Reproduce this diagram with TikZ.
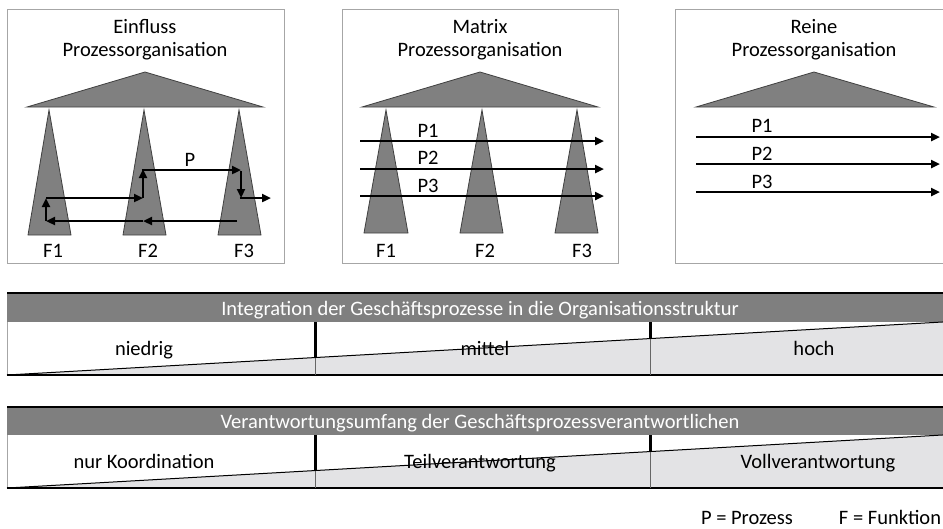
\documentclass[tikz,border=0pt]{standalone}
\usepackage{fontspec}
\setmainfont{Carlito}
\usetikzlibrary{arrows.meta}
\definecolor{tri}{HTML}{808080}
\definecolor{head}{HTML}{7F7F7F}
\definecolor{wedge}{HTML}{E3E3E5}
\definecolor{frame}{HTML}{A6A6A6}
\tikzset{
  lbl/.style={font=\fontsize{20.5}{24}\selectfont, inner sep=0pt, anchor=base},
  hdr/.style={lbl, text=white},
  panel/.style={draw=frame, line width=1pt},
  func/.style={fill=tri, draw=black!75, line width=0.8pt, line join=miter},
  flow/.style={line width=2.4pt, -{Triangle[length=9pt,width=8pt]}},
  divider/.style={line width=3pt},
}
\begin{document}
\begin{tikzpicture}[x=1pt, y=-1pt]
\useasboundingbox (0,0) rectangle (943,528);

% ---------- panel 1: Einfluss-Prozessorganisation ----------
\draw[panel] (7,9) rectangle (284,263);
\node[lbl] (t1a) at (145,33) {Einfluss};
\node[lbl] (t1b) at (145,56) {Prozessorganisation};
\filldraw[func] (145,72) -- (263,107) -- (27,107) -- cycle;
\filldraw[func] (49,110) -- (71,235) -- (28,235) -- cycle;
\filldraw[func] (144,110) -- (166,235) -- (123,235) -- cycle;
\filldraw[func] (239,110) -- (261,235) -- (218,235) -- cycle;
\node[lbl] (f11) at (53,257) {F1};
\node[lbl] (f12) at (148,257) {F2};
\node[lbl] (f13) at (244,257) {F3};
% process path through the functions
\coordinate (pS) at (237,221);
\coordinate (pA) at (143,221);
\coordinate (pB) at (46,221);
\coordinate (pC) at (46,198);
\coordinate (pD) at (143,198);
\coordinate (pE) at (143,170);
\coordinate (pF) at (241,170);
\coordinate (pG) at (241,198);
\coordinate (pH) at (271,198);
\draw[flow] (pS) -- (pA);
\draw[flow] (pA) -- (pB);
\draw[flow] (pB) -- (pC);
\draw[flow] (pC) -- (pD);
\draw[flow] (pD) -- ([yshift=1pt]pE);
\draw[flow] ([xshift=-1.2pt]pE) -- (pF);
\draw[flow] ([yshift=-1.2pt]pF) -- (pG);
\draw[flow] ([xshift=-1.2pt]pG) -- (pH);
\node[lbl] (p1) at (190,166) {P};

% ---------- panel 2: Matrix-Prozessorganisation ----------
\draw[panel] (342,9) rectangle (618,263);
\node[lbl] (t2a) at (480,33) {Matrix};
\node[lbl] (t2b) at (480,56) {Prozessorganisation};
\filldraw[func] (480,72) -- (598,107) -- (362,107) -- cycle;
\filldraw[func] (386,110) -- (408,233) -- (364,233) -- cycle;
\filldraw[func] (482,110) -- (503,233) -- (460,233) -- cycle;
\filldraw[func] (577,110) -- (598,233) -- (555,233) -- cycle;
\node[lbl] (f21) at (386,257) {F1};
\node[lbl] (f22) at (485,257) {F2};
\node[lbl] (f23) at (582,257) {F3};
\coordinate (m1s) at (360,141); \coordinate (m1e) at (604,141);
\coordinate (m2s) at (360,169); \coordinate (m2e) at (604,169);
\coordinate (m3s) at (360,196); \coordinate (m3e) at (604,196);
\draw[flow] (m1s) -- (m1e);
\draw[flow] (m2s) -- (m2e);
\draw[flow] (m3s) -- (m3e);
\node[lbl] (mp1) at (428,137) {P1};
\node[lbl] (mp2) at (428,164) {P2};
\node[lbl] (mp3) at (428,192) {P3};

% ---------- panel 3: Reine Prozessorganisation ----------
\draw[panel] (675,9) rectangle (946,263);
\node[lbl] (t3a) at (814,33) {Reine};
\node[lbl] (t3b) at (814,56) {Prozessorganisation};
\filldraw[func] (814,72) -- (934,107) -- (696,107) -- cycle;
\coordinate (r1s) at (696,137); \coordinate (r1e) at (940,137);
\coordinate (r2s) at (696,164); \coordinate (r2e) at (940,164);
\coordinate (r3s) at (696,192); \coordinate (r3e) at (940,192);
\draw[flow] (r1s) -- (r1e);
\draw[flow] (r2s) -- (r2e);
\draw[flow] (r3s) -- (r3e);
\node[lbl] (rp1) at (762,132) {P1};
\node[lbl] (rp2) at (762,160) {P2};
\node[lbl] (rp3) at (762,188) {P3};

% ---------- scale 1: integration ----------
\fill[white] (7,322) rectangle (946,375);
\fill[wedge] (7,375) -- (946,321.8) -- (946,375) -- cycle;
\draw[frame, line width=0.8pt] (7,322) -- (7,375);
\fill[head] (7,293) rectangle (946,322);
\draw[line width=1.2pt] (7,293) -- (946,293);
\draw[line width=1.5pt] (7,375) -- (946,375);
\draw[line width=1pt] (7,375) -- (946,321.8);
\draw[black!60, line width=0.6pt] (315,357) -- (315,375);
\draw[black!60, line width=0.6pt] (650,338) -- (650,375);
\draw[divider] (315,322) -- (315,357.6);
\draw[divider] (650,322) -- (650,338.6);
\node[hdr] (h1) at (480,315) {Integration der Geschäftsprozesse in die Organisationsstruktur};
\node[lbl] (s11) at (144,355) {niedrig};
\node[lbl] (s12) at (485,355) {mittel};
\node[lbl] (s13) at (814,355) {hoch};

% ---------- scale 2: responsibility ----------
\fill[white] (7,435) rectangle (946,488);
\fill[wedge] (7,488) -- (946,434.8) -- (946,488) -- cycle;
\draw[frame, line width=0.8pt] (7,435) -- (7,488);
\fill[head] (7,407) rectangle (946,435);
\draw[line width=1.2pt] (7,407) -- (946,407);
\draw[line width=1.5pt] (7,488) -- (946,488);
\draw[line width=1pt] (7,488) -- (946,434.8);
\draw[black!60, line width=0.6pt] (315,470) -- (315,488);
\draw[black!60, line width=0.6pt] (650,451) -- (650,488);
\draw[divider] (315,435) -- (315,470.6);
\draw[divider] (650,435) -- (650,451.6);
\node[hdr] (h2) at (480,428) {Verantwortungsumfang der Geschäftsprozessverantwortlichen};
\node[lbl] (s21) at (144,468) {nur Koordination};
\node[lbl] (s22) at (480,468) {Teilverantwortung};
\node[lbl] (s23) at (818,468) {Vollverantwortung};

% ---------- legend ----------
\node[lbl] (lp) at (747,524) {P = Prozess};
\node[lbl] (lf) at (890,524) {F = Funktion};
\end{tikzpicture}
\end{document}
